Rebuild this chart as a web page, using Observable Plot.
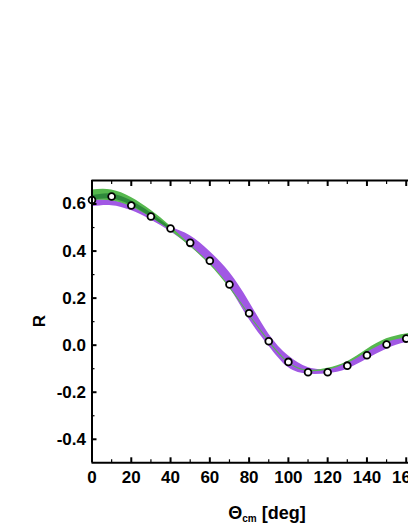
<!DOCTYPE html>
<html>
<head>
<meta charset="utf-8">
<script src="https://cdn.jsdelivr.net/npm/d3@7"></script>
<script src="https://cdn.jsdelivr.net/npm/@observablehq/plot@0.6"></script>
<style>
  html, body { margin: 0; padding: 0; background: white; overflow: hidden; }
  svg { overflow: hidden; }
</style>
</head>
<body>
<div id="chart"></div>
<script>
// ---- data ----
const angles = [0, 10, 20, 30, 40, 50, 60, 70, 80, 90, 100, 110, 120, 130, 140, 150, 160, 170];
const greenLo  = [0.615, 0.614, 0.588, 0.543, 0.487, 0.419, 0.342, 0.243, 0.126, 0.014, -0.077, -0.112, -0.106, -0.078, -0.032, 0.010, 0.030, 0.040];
const greenHi  = [0.660, 0.660, 0.628, 0.574, 0.506, 0.427, 0.349, 0.250, 0.133, 0.021, -0.071, -0.106, -0.098, -0.070, -0.018, 0.027, 0.048, 0.060];
const purpleLo = [0.588, 0.593, 0.572, 0.532, 0.483, 0.420, 0.345, 0.245, 0.110, -0.003, -0.095, -0.123, -0.121, -0.102, -0.060, -0.017, 0.011, 0.020];
const purpleHi = [0.620, 0.614, 0.593, 0.550, 0.503, 0.465, 0.398, 0.310, 0.185, 0.048, -0.045, -0.095, -0.102, -0.074, -0.024, 0.018, 0.040, 0.050];
const darkAngles = [0, 10, 20, 30, 40];
const darkLo = [0.615, 0.621, 0.594, 0.545, 0.490];
const darkHi = [0.635, 0.643, 0.614, 0.562, 0.500];
const pointAngles = [0, 10, 20, 30, 40, 50, 60, 70, 80, 90, 100, 110, 120, 130, 140, 150, 160];
const pointR = [0.617, 0.632, 0.594, 0.547, 0.496, 0.435, 0.359, 0.258, 0.136, 0.017, -0.071, -0.115, -0.115, -0.087, -0.043, 0.003, 0.028];
const xMajor = [0, 20, 40, 60, 80, 100, 120, 140, 160, 180];
const xMinor = [10, 30, 50, 70, 90, 110, 130, 150, 170];
const yMajor = [-0.4, -0.2, 0.0, 0.2, 0.4, 0.6];
const yMinor = [-0.3, -0.1, 0.1, 0.3, 0.5];

const green = angles.map((a, i) => ({a, lo: greenLo[i], hi: greenHi[i]}));
const purple = angles.map((a, i) => ({a, lo: purpleLo[i], hi: purpleHi[i]}));
const dark = darkAngles.map((a, i) => ({a, lo: darkLo[i], hi: darkHi[i]}));
const points = pointAngles.map((a, i) => ({a, r: pointR[i]}));

const W = 408, H = 528;
const mLeft = 91.5, mTop = 180, yBottom = 462.3;
const FONT = "'Liberation Sans', Arial, sans-serif";

const plot = Plot.plot({
  width: W,
  height: H,
  marginLeft: mLeft,
  marginRight: 0,
  marginTop: mTop,
  marginBottom: H - yBottom,
  x: {domain: [0, 180], range: [mLeft, 445]},
  y: {domain: [-0.5, 0.7]},
  style: {fontFamily: FONT, fontSize: "17px", fontWeight: "bold", color: "black", background: "white", overflow: "hidden"},
  marks: [
    Plot.areaY(purple, {x: "a", y1: "lo", y2: "hi", fill: "#a158e4", curve: "natural"}),
    Plot.areaY(green, {x: "a", y1: "lo", y2: "hi", fill: "#56b84e", curve: "natural"}),
    Plot.areaY(dark, {x: "a", y1: "lo", y2: "hi", fill: "#2f8a3c", curve: "natural"}),
    Plot.dot(points, {x: "a", y: "r", r: 3.4, stroke: "black", strokeWidth: 1.8, fill: "white"}),
    // frame
    Plot.ruleY([0.7], {stroke: "black", strokeWidth: 2}),
    Plot.ruleY([-0.5], {stroke: "black", strokeWidth: 2}),
    Plot.ruleX([0], {stroke: "black", strokeWidth: 2}),
    // ticks (inward)
    Plot.axisX({anchor: "bottom", ticks: xMajor, tickSize: -5, strokeWidth: 2, text: null, label: null}),
    Plot.axisX({anchor: "bottom", ticks: xMinor, tickSize: -3, strokeWidth: 1.2, text: null, label: null}),
    Plot.axisX({anchor: "top", ticks: xMajor, tickSize: -5, strokeWidth: 2, text: null, label: null}),
    Plot.axisX({anchor: "top", ticks: xMinor, tickSize: -3, strokeWidth: 1.2, text: null, label: null}),
    Plot.axisY({anchor: "left", ticks: yMajor, tickSize: -5, strokeWidth: 2, text: null, label: null}),
    Plot.axisY({anchor: "left", ticks: yMinor, tickSize: -3, strokeWidth: 1.2, text: null, label: null}),
    // tick labels
    Plot.axisX({anchor: "bottom", ticks: xMajor, tickSize: 0, tickPadding: 8.5, tickFormat: d => d.toFixed(0), label: null}),
    Plot.axisY({anchor: "left", ticks: yMajor, tickSize: 0, tickPadding: 6, tickFormat: d => d.toFixed(1), label: null})
  ]
});

document.getElementById("chart").appendChild(plot);

const svg = d3.select(plot);
// y axis title
svg.append("text")
  .attr("transform", `translate(45, ${(mTop + yBottom) / 2}) rotate(-90)`)
  .attr("text-anchor", "middle")
  .attr("font-family", FONT)
  .attr("font-weight", "bold")
  .attr("font-size", 17)
  .attr("fill", "black")
  .text("R");
// x axis title with subscript
const xt = svg.append("text")
  .attr("x", 267)
  .attr("y", 519)
  .attr("text-anchor", "middle")
  .attr("font-family", FONT)
  .attr("font-weight", "bold")
  .attr("font-size", 18)
  .attr("fill", "black");
xt.append("tspan").text("\u0398");
xt.append("tspan").attr("font-size", 10).attr("dy", 3).text("cm");
xt.append("tspan").attr("dy", -3).text(" [deg]");
</script>
</body>
</html>
